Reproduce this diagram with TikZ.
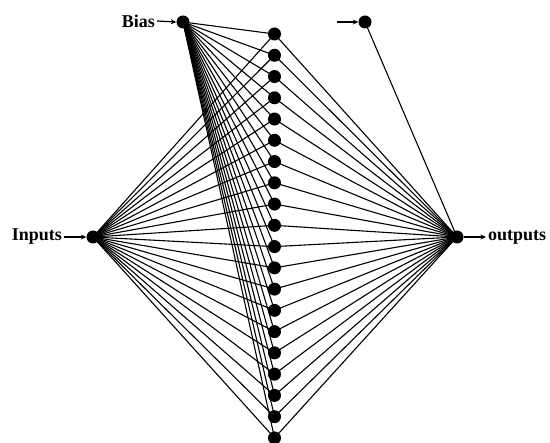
\documentclass[tikz,border=0pt]{standalone}
\usepackage{fontspec}
\setmainfont{Liberation Serif}
\usetikzlibrary{arrows.meta}
\begin{document}
\begin{tikzpicture}[x=1pt,y=-1pt,
  dot/.style={circle,fill=black,inner sep=0pt,minimum size=13pt},
  wire/.style={line width=1.1pt},
  lab/.style={font=\fontsize{18}{20}\selectfont\bfseries,inner sep=0pt},
  arr/.style={line width=1.2pt,-{Stealth[length=5.5pt,width=5pt]}}]
\useasboundingbox (0,0) rectangle (550,443);
\node[dot] (bias) at (183,22) {};
\node[dot] (obias) at (365,22) {};
\node[dot] (in) at (93,237) {};
\node[dot] (out) at (457,237) {};
\foreach \i in {1,...,20} {
  \node[dot] (h\i) at (274.5,{34+(\i-1)*21.26}) {};
}
\foreach \i in {1,...,20} {
  \draw[wire] (in.center) -- (h\i.center);
  \draw[wire] (bias.center) -- (h\i.center);
  \draw[wire] (h\i.center) -- (out.center);
}
\draw[wire] (obias.center) -- (out.center);
\node[lab,anchor=east] (tb) at (155,21) {Bias};
\node[lab,anchor=east] (ti) at (62,237) {Inputs};
\node[lab,anchor=west] (to) at (488,237) {outputs};
\coordinate (oa) at (337,22);
\draw[arr] (tb.east) ++(2,0) -- (bias.west);
\draw[arr] (ti.east) ++(2,0) -- (in.west);
\draw[arr] (out.east) -- ([xshift=-2pt]to.west);
\draw[arr] (oa) -- (obias.west);
\end{tikzpicture}
\end{document}
